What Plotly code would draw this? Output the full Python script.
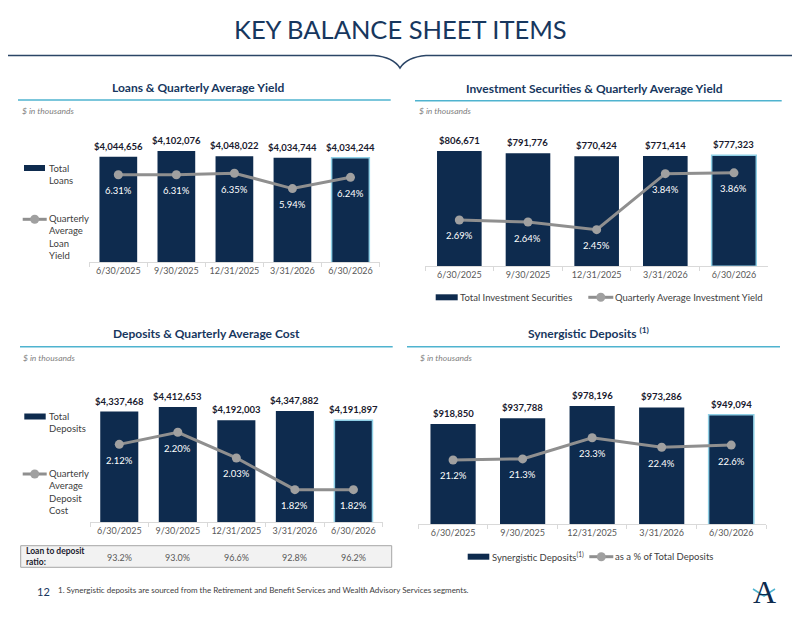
import plotly.graph_objects as go

# the page body keeps an 8px margin, so the figure is drawn 8px smaller and everything is placed in page pixels
OFF = 8
W, H = 800 - OFF, 618 - OFF

dates = ["6/30/2025", "9/30/2025", "12/31/2025", "3/31/2026", "6/30/2026"]
loans = [4044656, 4102076, 4048022, 4034744, 4034244]
loan_yield = [6.31, 6.31, 6.35, 5.94, 6.24]
securities = [806671, 791776, 770424, 771414, 777323]
sec_yield = [2.69, 2.64, 2.45, 3.84, 3.86]
deposits = [4337468, 4412653, 4192003, 4347882, 4191897]
dep_cost = [2.12, 2.20, 2.03, 1.82, 1.82]
syn_deposits = [918850, 937788, 978196, 973286, 949094]
syn_pct = [21.2, 21.3, 23.3, 22.4, 22.6]
ltd_ratio = [93.2, 93.0, 96.6, 92.8, 96.2]

NAVY = "#0e2b4e"
TITLE = "#17375e"
TEAL = "#4fb3cf"
GREY_LINE = "#8f8f8f"
GREY_MARK = "#a0a0a0"
TXT = "#404040"
FONT = "Lato"


def fx(x):
    return (x - OFF) / W


def fy(y):
    return 1 - (y - OFF) / H


# pixel boxes and axis ranges
panels = [
    dict(xd=(89.3, 379.5), yd=(262.3, 130), r1=(3.0e6, 4308700), r2=(3.974, 7.502),
         bars=loans, line=loan_yield, pf="{:.2f}%"),
    dict(xd=(425, 768.3), yd=(266.3, 130), r1=(0, 953600), r2=(1.541, 4.923),
         bars=securities, line=sec_yield, pf="{:.2f}%"),
    dict(xd=(90, 382.7), yd=(522.3, 390), r1=(2.5e6, 4694900), r2=(1.604, 2.480),
         bars=deposits, line=dep_cost, pf="{:.2f}%"),
    dict(xd=(418.3, 766), yd=(524.3, 390), r1=(590000, 1030370), r2=(15.13, 27.80),
         bars=syn_deposits, line=syn_pct, pf="{:.1f}%"),
]

fig = go.Figure()
annotations = []
shapes = []
layout = {}

for i, p in enumerate(panels, start=1):
    xa = "x" if i == 1 else f"x{i}"
    kb, kl = 2 * i - 1, 2 * i
    yb = "y" if kb == 1 else f"y{kb}"
    yl = f"y{kl}"

    fig.add_trace(go.Bar(
        x=dates, y=p["bars"], xaxis=xa, yaxis=yb, width=0.65,
        marker=dict(color=NAVY,
                    line=dict(color=["rgba(0,0,0,0)"] * 4 + ["#8fd0e6"], width=[0, 0, 0, 0, 1.5])),
        showlegend=False, hoverinfo="skip"))
    fig.add_trace(go.Scatter(
        x=dates, y=p["line"], xaxis=xa, yaxis=yl, mode="lines+markers",
        line=dict(color=GREY_LINE, width=3),
        marker=dict(color=GREY_MARK, size=9),
        showlegend=False, hoverinfo="skip", cliponaxis=False))

    layout["xaxis" if i == 1 else f"xaxis{i}"] = dict(
        domain=[fx(p["xd"][0]), fx(p["xd"][1])], anchor=yb, type="category",
        showline=True, linecolor="#d9d9d9", linewidth=1,
        ticks="outside", tickson="boundaries", ticklen=4, tickcolor="#d9d9d9",
        tickangle=0, automargin=False,
        tickfont=dict(family=FONT, size=9, color="#595959"),
        showgrid=False, zeroline=False, fixedrange=True)
    layout["yaxis" if kb == 1 else f"yaxis{kb}"] = dict(
        domain=[fy(p["yd"][0]), fy(p["yd"][1])], anchor=xa, range=list(p["r1"]),
        visible=False, automargin=False, fixedrange=True)
    layout[f"yaxis{kl}"] = dict(
        overlaying=yb, anchor=xa, range=list(p["r2"]), visible=False, automargin=False,
        fixedrange=True)

    for d, v in zip(dates, p["bars"]):
        annotations.append(dict(
            x=d, y=v, xref=xa, yref=yb, text=f"<b>${v:,}</b>", showarrow=False,
            yanchor="middle", yshift=10.5,
            font=dict(family=FONT, size=9.5, color="#1a1a2e")))
    for d, v in zip(dates, p["line"]):
        annotations.append(dict(
            x=d, y=v, xref=xa, yref=yl, text=p["pf"].format(v), showarrow=False,
            yanchor="middle", yshift=-16,
            font=dict(family=FONT, size=9.5, color="white")))

# slide header
annotations.append(dict(x=fx(400), y=fy(29), xref="paper", yref="paper", text="KEY BALANCE SHEET ITEMS",
                        showarrow=False, xanchor="center", yanchor="middle",
                        font=dict(family=FONT, size=25.5, color=TITLE)))
shapes.append(dict(type="path", xref="paper", yref="paper",
                   path=(f"M {fx(0)},{fy(55.5)} L {fx(374)},{fy(55.5)} Q {fx(393)},{fy(57)} {fx(400)},{fy(68)} "
                         f"Q {fx(407)},{fy(57)} {fx(426)},{fy(55.5)} L {fx(800)},{fy(55.5)}"),
                   line=dict(color="#2b4566", width=1.5)))

# panel titles, rules and unit notes
titles = [
    ("Loans & Quarterly Average Yield", 197.5, 87.5, 18, 390.7, 100, 20, 110.7),
    ("Investment Securities & Quarterly Average Yield", 594, 88, 415, 781.7, 100.7, 416.7, 111),
    ("Deposits & Quarterly Average Cost", 206, 333.3, 20, 392.7, 346.7, 20.7, 358.3),
    ("Synergistic Deposits <sup>(1)</sup>", 588, 333.3, 407, 780, 346.7, 418, 358.3),
]
for t, tx, ty, l0, l1, ly, ux, uy in titles:
    annotations.append(dict(x=fx(tx), y=fy(ty), xref="paper", yref="paper", text=f"<b>{t}</b>",
                            showarrow=False, xanchor="center", yanchor="middle",
                            font=dict(family=FONT, size=12, color=TITLE)))
    shapes.append(dict(type="line", xref="paper", yref="paper", x0=fx(l0), x1=fx(l1),
                       y0=fy(ly), y1=fy(ly), line=dict(color=TEAL, width=1.5)))
    annotations.append(dict(x=fx(ux), y=fy(uy), xref="paper", yref="paper", text="<i>$ in thousands</i>",
                            showarrow=False, xanchor="left", yanchor="middle",
                            font=dict(family=FONT, size=8.5, color="#7f7f7f")))


def bar_key(x0, x1, yc):
    shapes.append(dict(type="rect", xref="paper", yref="paper", x0=fx(x0), x1=fx(x1),
                       y0=fy(yc + 3), y1=fy(yc - 3), fillcolor=NAVY, line=dict(width=0)))


def line_key(x0, x1, yc):
    shapes.append(dict(type="line", xref="paper", yref="paper", x0=fx(x0), x1=fx(x1),
                       y0=fy(yc), y1=fy(yc), line=dict(color=GREY_LINE, width=3)))
    xm = (x0 + x1) / 2
    shapes.append(dict(type="circle", xref="paper", yref="paper", x0=fx(xm - 4.5), x1=fx(xm + 4.5),
                       y0=fy(yc + 4.5), y1=fy(yc - 4.5), fillcolor=GREY_MARK, line=dict(width=0)))


def key_text(x, y, text, align="left"):
    annotations.append(dict(x=fx(x), y=fy(y), xref="paper", yref="paper", text=text, showarrow=False,
                            xanchor="left", yanchor="middle", align=align,
                            font=dict(family=FONT, size=9.5, color=TXT)))


# legends
bar_key(24, 45, 168)
key_text(47, 174.3, "Total<br>Loans")
line_key(22.7, 46.7, 219.3)
key_text(47, 237.3, "Quarterly<br>Average<br>Loan<br>Yield")

bar_key(435.7, 457.7, 297.3)
key_text(458.5, 297.3, "Total Investment Securities")
line_key(588.3, 613.3, 297.3)
key_text(612.5, 297.3, "Quarterly Average Investment Yield")

bar_key(24.3, 45.7, 416.5)
key_text(47, 422.2, "Total<br>Deposits")
line_key(22.7, 46.7, 474)
key_text(47, 492.2, "Quarterly<br>Average<br>Deposit<br>Cost")

bar_key(467.7, 489.3, 556.7)
key_text(490, 556.7, "Synergistic Deposits<sup>(1)</sup>")
line_key(589.3, 613.3, 556.7)
key_text(612.5, 556.7, "as a % of Total Deposits")

# loan to deposit ratio strip
shapes.append(dict(type="rect", xref="paper", yref="paper", x0=fx(20.7), x1=fx(391.7),
                   y0=fy(567.3), y1=fy(545.7), fillcolor="#f2f2f2", line=dict(color="#a6a6a6", width=1),
                   layer="below"))
annotations.append(dict(x=fx(24), y=fy(556.5), xref="paper", yref="paper",
                        text="<b>Loan to deposit<br>ratio:</b>", showarrow=False, xanchor="left",
                        yanchor="middle", align="left", font=dict(family=FONT, size=8.5, color="#1a1a2e")))
for d, v in zip(dates, ltd_ratio):
    annotations.append(dict(x=d, y=fy(557), xref="x3", yref="paper", text=f"{v:.1f}%", showarrow=False,
                            xanchor="center", yanchor="middle",
                            font=dict(family=FONT, size=9, color="#595959")))

# footer
annotations.append(dict(x=fx(43), y=fy(591), xref="paper", yref="paper", text="12", showarrow=False,
                        xanchor="center", yanchor="middle", font=dict(family=FONT, size=11, color=TITLE)))
annotations.append(dict(x=fx(56), y=fy(590), xref="paper", yref="paper",
                        text="1. Synergistic deposits are sourced from the Retirement and Benefit Services "
                             "and Wealth Advisory Services segments.",
                        showarrow=False, xanchor="left", yanchor="middle",
                        font=dict(family=FONT, size=8, color=TXT)))
annotations.append(dict(x=fx(764), y=fy(592), xref="paper", yref="paper", text="A", showarrow=False,
                        xanchor="center", yanchor="middle",
                        font=dict(family="Liberation Serif", size=32, color=NAVY)))
shapes.append(dict(type="path", xref="paper", yref="paper",
                   path=f"M {fx(753)},{fy(589)} L {fx(764)},{fy(596)} L {fx(775)},{fy(589)}",
                   line=dict(color=TEAL, width=1.5)))

fig.update_layout(
    width=W, height=H, margin=dict(l=0, r=0, t=0, b=0, autoexpand=False),
    paper_bgcolor="white", plot_bgcolor="white",
    showlegend=False, bargap=0.35,
    annotations=annotations, shapes=shapes,
    **layout)

fig.write_html("out.html")
